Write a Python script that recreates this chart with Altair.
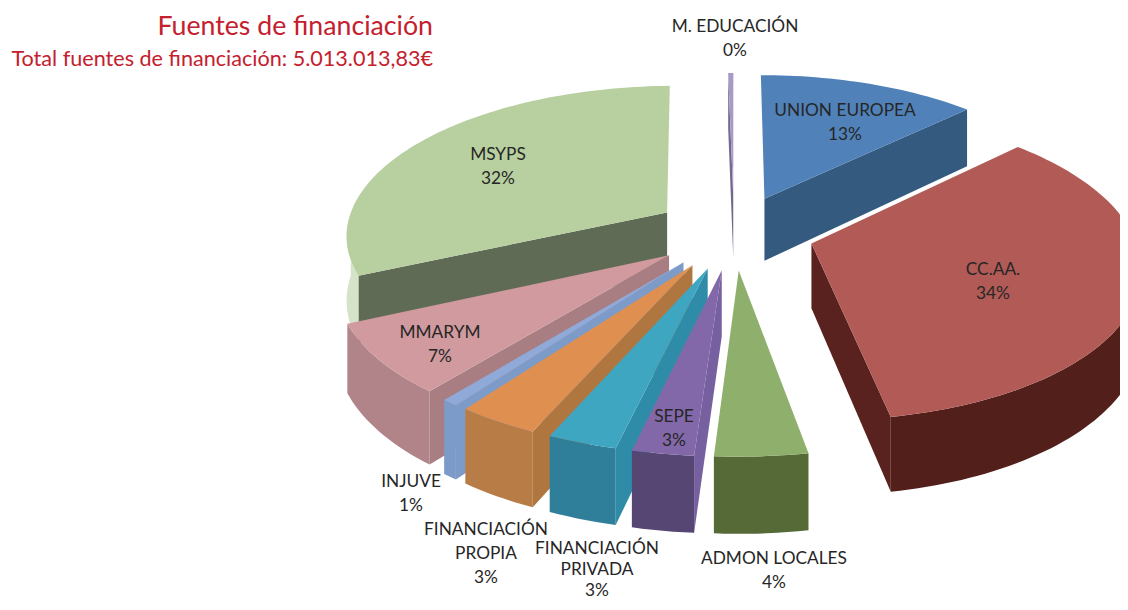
import math
import altair as alt

# Data (percent of total funding, clockwise from the back of the pie)
names = ["UNION EUROPEA", "CC.AA.", "ADMON LOCALES", "SEPE", "FINANCIACIÓN PRIVADA",
         "FINANCIACIÓN PROPIA", "INJUVE", "MMARYM", "MSYPS", "M. EDUCACIÓN"]
values = [12.75, 34.4, 3.9, 2.6, 2.95, 3.49, 0.7, 7.4, 31.51, 0.3]
pct_labels = ["13%", "34%", "4%", "3%", "3%", "3%", "1%", "7%", "32%", "0%"]

top_colors = ["#5082b9", "#b25a56", "#8fb06c", "#8268a8", "#3fa6c1", "#df9050", "#8fa9d8", "#d09a9e", "#b8d0a0", "#a79ac6"]
outer_colors = ["#355a80", "#521f1b", "#566a38", "#564673", "#2f7f9a", "#b87c47", "#7d9bc9", "#b08488", "#d5e3c8", "#75688f"]
side_colors = ["#355a80", "#5a221e", "#566a38", "#7660a0", "#2f8ca8", "#b0763f", "#7d9bc9", "#a87e82", "#5f6b55", "#75688f"]

# drawing order, back to front
draw_order = [8, 9, 0, 7, 6, 5, 4, 3, 1, 2]

# label lines are centred on these page positions
label_lines = [["UNION EUROPEA", "13%"], ["CC.AA.", "34%"], ["ADMON LOCALES", "4%"], ["SEPE", "3%"],
               ["FINANCIACIÓN", "PRIVADA", "3%"], ["FINANCIACIÓN", "PROPIA", "3%"], ["INJUVE", "1%"],
               ["MMARYM", "7%"], ["MSYPS", "32%"], ["M. EDUCACIÓN", "0%"]]
label_x = [845, 993, 774, 674, 597, 486, 411, 440, 498, 735]
label_y = [111, 270, 559, 417, 549, 530, 482, 333, 155, 27]
label_step = [24.2, 24.2, 24.2, 24.2, 21, 24.2, 24.2, 24.2, 24.2, 24.2]
MARGIN = 8

# camera of the 3D pie
CX, CY = 734, 232
A, B, P = 322, 149, 0.137
EXPLODE, DEPTH = 0.25, 64


def project(wx, wz, low=False):
    d = 1 + P * wz
    return [A * wx / d, -B * wz / d + (DEPTH / d if low else 0)]


def world(t, r, off):
    return off[0] + r * math.sin(t), off[1] + r * math.cos(t)


def poly(points, color):
    ring = points + [points[0]]
    return {"type": "Feature", "properties": {"color": color},
            "geometry": {"type": "Polygon", "coordinates": [ring]}}


total = sum(values)
features = []
starts = [sum(values[:i]) for i in range(len(values))]
for i in draw_order:
    t0 = starts[i] / total * 2 * math.pi
    t1 = (starts[i] + values[i]) / total * 2 * math.pi
    tm = (t0 + t1) / 2
    off = (EXPLODE * math.sin(tm), EXPLODE * math.cos(tm))
    n = max(2, int((t1 - t0) * 40))
    ts = [t0 + (t1 - t0) * k / n for k in range(n + 1)]
    arc = [world(t, 1, off) for t in ts]
    if math.sin(t0) < 0:  # leading wall faces the viewer
        w = world(t0, 1, off)
        features.append(poly([project(*off), project(*w), project(*w, True), project(*off, True)], side_colors[i]))
    if math.sin(t1) > 0:  # trailing wall faces the viewer
        w = world(t1, 1, off)
        features.append(poly([project(*off), project(*w), project(*w, True), project(*off, True)], side_colors[i]))
    front = [t for t in ts if math.cos(t) < 0.02]
    if len(front) > 1:
        up = [project(*world(t, 1, off)) for t in front]
        dn = [project(*world(t, 1, off), True) for t in reversed(front)]
        features.append(poly(up + dn, outer_colors[i]))
    features.append(poly([project(*off)] + [project(*p) for p in arc], top_colors[i]))

pie = alt.Chart(alt.Data(values=features)).mark_geoshape(strokeWidth=0, stroke=None).encode(
    color=alt.Color("properties.color:N", scale=None)
).project(type="identity", scale=1, translate=[CX - MARGIN, CY - MARGIN])

rows = []
for lines, x, y, step in zip(label_lines, label_x, label_y, label_step):
    for k, line in enumerate(lines):
        rows.append({"t": line, "x": x - MARGIN, "y": y + k * step - MARGIN})

labels = alt.Chart(alt.Data(values=rows)).mark_text(
    font="Lato", fontSize=17.3, color="#262626", align="center", baseline="middle"
).encode(x=alt.X("x:Q", scale=None), y=alt.Y("y:Q", scale=None), text="t:N")

title_rows = [
    {"t": "Fuentes de financiación", "x": 433 - MARGIN, "y": 27 - MARGIN, "s": 26.7},
    {"t": "Total fuentes de financiación: 5.013.013,83€", "x": 433 - MARGIN, "y": 60 - MARGIN, "s": 21.6},
]
titles = alt.Chart(alt.Data(values=title_rows)).mark_text(
    font="Lato", color="#c4202e", align="right", baseline="middle"
).encode(x=alt.X("x:Q", scale=None), y=alt.Y("y:Q", scale=None), text="t:N",
         size=alt.Size("s:Q", scale=None, legend=None))

chart = alt.layer(pie, labels, titles).properties(
    width=1112, height=594, padding=0, autosize=alt.AutoSizeParams(type="none"), background="white"
).configure_view(stroke=None)

chart.save("out.html", embed_options={"renderer": "svg", "actions": False})
